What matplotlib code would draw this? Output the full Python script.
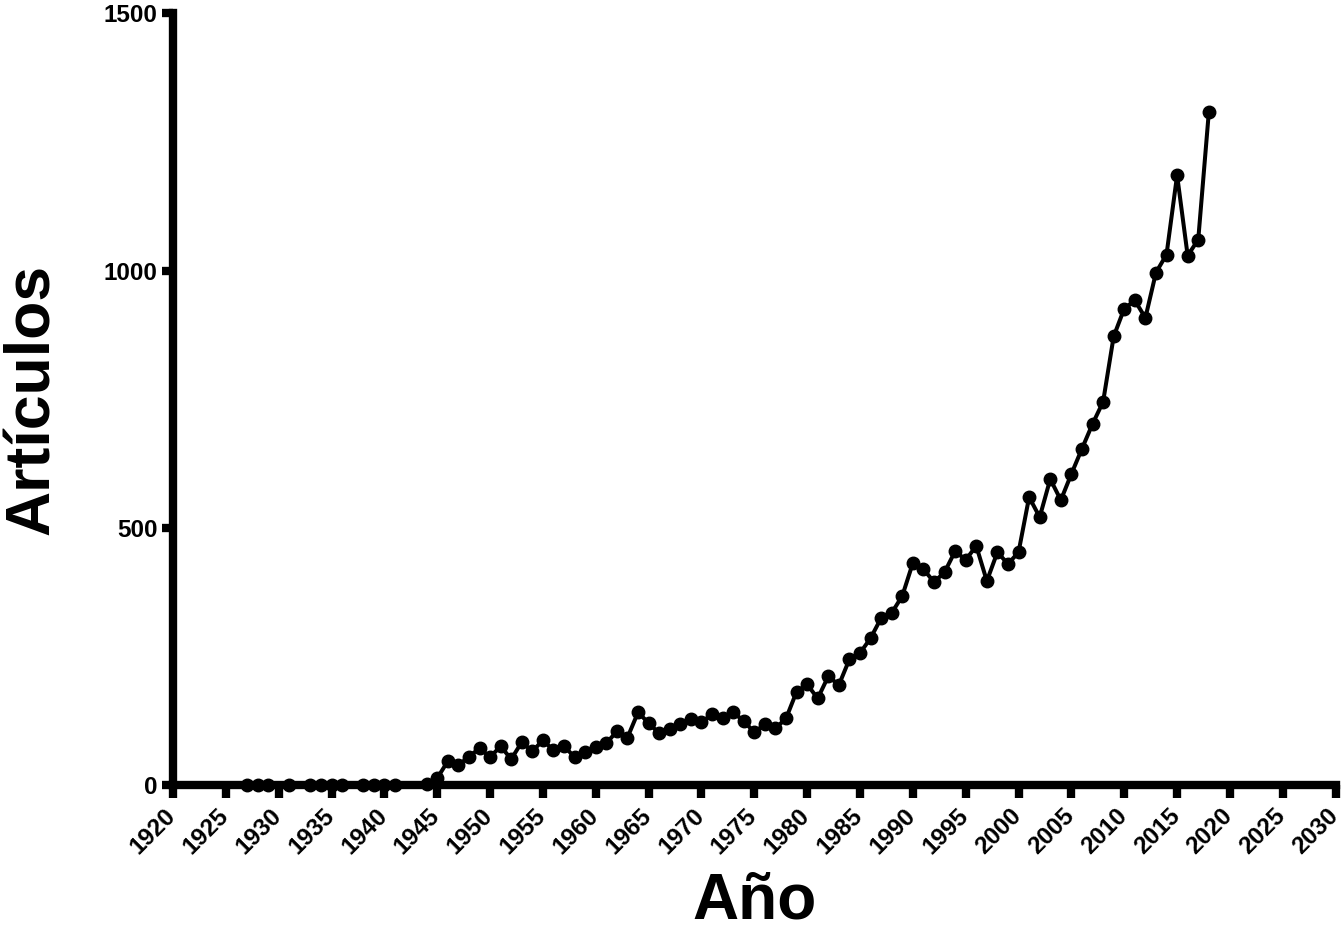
import matplotlib
matplotlib.use("Agg")
from matplotlib import pyplot as plt
from matplotlib.transforms import ScaledTranslation

plt.rcParams['font.family'] = ['Liberation Sans', 'DejaVu Sans']
plt.rcParams['font.weight'] = 'bold'

years = [1927, 1928, 1929, 1931, 1933, 1934, 1935, 1936, 1938, 1939, 1940, 1941, 1944,
         1945, 1946, 1947, 1948, 1949, 1950, 1951, 1952, 1953, 1954, 1955, 1956, 1957,
         1958, 1959, 1960, 1961, 1962, 1963, 1964, 1965, 1966, 1967, 1968, 1969, 1970,
         1971, 1972, 1973, 1974, 1975, 1976, 1977, 1978, 1979, 1980, 1981, 1982, 1983,
         1984, 1985, 1986, 1987, 1988, 1989, 1990, 1991, 1992, 1993, 1994, 1995, 1996,
         1997, 1998, 1999, 2000, 2001, 2002, 2003, 2004, 2005, 2006, 2007, 2008, 2009,
         2010, 2011, 2012, 2013, 2014, 2015, 2016, 2017, 2018]
articulos = [0, 0, 0, 0, 0, 0, 0, 0, 0, 0, 0, 0, 2,
             14, 47, 39, 56, 72, 55, 76, 51, 84, 66, 88, 68, 76,
             55, 64, 74, 82, 105, 93, 142, 121, 101, 109, 119, 128, 123,
             138, 130, 142, 125, 103, 119, 111, 130, 182, 196, 169, 212, 195,
             245, 257, 286, 325, 335, 368, 432, 420, 395, 414, 455, 438, 465,
             397, 453, 430, 453, 560, 521, 595, 554, 605, 654, 702, 745, 872,
             926, 942, 908, 996, 1031, 1185, 1029, 1060, 1307]

x_ticks = list(range(1920, 2031, 5))
y_ticks = [0, 500, 1000, 1500]

fig = plt.figure(figsize=(13.41, 9.35), dpi=100)
ax = fig.add_axes([0.129, 0.160, 0.867, 0.826])

ax.plot(years, articulos, color='black', linewidth=2.9, marker='o',
        markersize=9, clip_on=False, zorder=3)

ax.set_xlim(1920, 2030)
ax.set_ylim(0, 1500)
ax.set_xticks(x_ticks)
ax.set_yticks(y_ticks)
ax.set_xticklabels([str(t) for t in x_ticks], rotation=45, ha='right', va='top',
                   rotation_mode='anchor', fontsize=17.5, fontweight='bold')
ax.set_yticklabels([str(t) for t in y_ticks], fontsize=17.5, fontweight='bold')

for side in ['top', 'right']:
    ax.spines[side].set_visible(False)
for side in ['left', 'bottom']:
    ax.spines[side].set_linewidth(6)
    ax.spines[side].set_capstyle('projecting')

ax.tick_params(axis='x', direction='out', length=9, width=6, pad=4)
ax.tick_params(axis='y', direction='out', length=8, width=6, pad=3)

# pull the rotated labels left so they end under their tick
shift = ScaledTranslation(-9 / 100, -1 / 100, fig.dpi_scale_trans)
for lbl in ax.xaxis.get_majorticklabels():
    lbl.set_transform(lbl.get_transform() + shift)

ax.set_xlabel('Año', fontsize=46, fontweight='bold', labelpad=9)
ax.set_ylabel('Artículos', fontsize=45, fontweight='bold', labelpad=30)

fig.savefig('out.png', dpi=100)
